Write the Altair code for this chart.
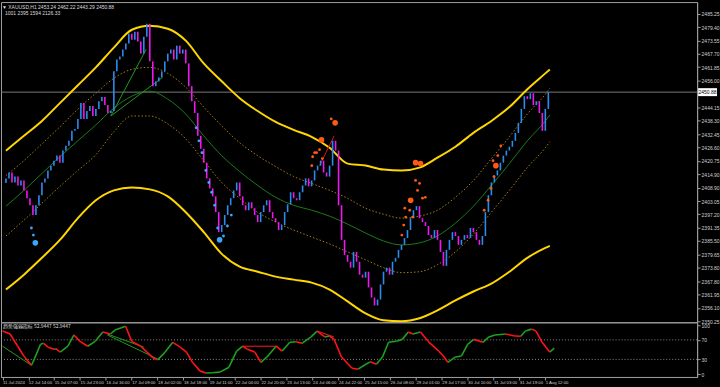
import altair as alt
import pandas as pd

# ---------------- data ----------------
symbol_line = "▼ XAUUSD,H1  2453.24 2462.22 2443.29 2450.88"
info_line = "1001 2395 1594 2126.33"
indicator_label = "趋势强弱指标 52.9447 52.9447"
last_price = 2450.88
last_label = "2450.88"
first_open = 2411.0

# H1 candles sampled every 2 hours (close prices)
closes = [
    2413.0, 2415.6, 2411.2, 2413.8, 2409.9, 2412.1, 2407.7, 2404.3, 2401.2, 2396.9,
    2401.2, 2405.6, 2411.2, 2413.0, 2416.5, 2418.6, 2420.8, 2423.0, 2419.9, 2425.2,
    2427.3, 2429.5, 2433.9, 2434.7, 2439.1, 2446.1, 2439.1, 2442.6, 2444.8, 2440.4,
    2443.5, 2446.9, 2448.7, 2445.2, 2441.7, 2442.6, 2460.0, 2465.2, 2466.5, 2469.6,
    2472.2, 2476.5, 2473.9, 2477.4, 2473.1, 2467.8, 2475.2, 2480.9, 2464.4, 2453.5,
    2455.6, 2457.4, 2460.0, 2464.4, 2467.8, 2469.6, 2465.2, 2471.3, 2467.8, 2469.6,
    2463.5, 2453.5, 2446.9, 2441.7, 2431.7, 2426.0, 2419.9, 2413.0, 2408.6, 2405.1,
    2398.2, 2389.4, 2392.5, 2396.9, 2401.2, 2404.3, 2407.7, 2411.2, 2405.1, 2401.2,
    2399.0, 2402.5, 2399.9, 2396.9, 2393.8, 2398.2, 2401.2, 2403.4, 2398.2, 2395.5,
    2393.8, 2390.3, 2392.5, 2398.2, 2401.6, 2406.9, 2404.3, 2403.4, 2406.9, 2409.9,
    2413.0, 2409.5, 2412.1, 2416.5, 2418.6, 2420.8, 2415.6, 2413.8, 2418.6, 2429.5,
    2425.2, 2401.2, 2386.0, 2379.4, 2376.4, 2373.8, 2380.7, 2376.4, 2370.7, 2369.4,
    2372.0, 2365.1, 2360.7, 2357.2, 2359.8, 2366.4, 2372.0, 2373.8, 2370.7, 2376.4,
    2378.1, 2381.6, 2383.8, 2386.8, 2390.3, 2395.5, 2399.0, 2400.8, 2395.5, 2393.8,
    2392.1, 2388.1, 2386.8, 2390.3, 2386.0, 2380.7, 2374.6, 2381.6, 2386.0, 2389.4,
    2387.7, 2383.8, 2386.0, 2388.1, 2386.8, 2391.2, 2389.4, 2386.0, 2383.8, 2387.7,
    2398.2, 2405.6, 2411.2, 2414.3, 2416.5, 2419.9, 2423.0, 2425.2, 2426.9, 2429.5,
    2433.0, 2437.4, 2443.5, 2449.1, 2447.8, 2450.4, 2445.2, 2446.9, 2441.7, 2433.9,
    2443.5, 2450.88,
]

price_ticks = [2485.25, 2479.40, 2473.55, 2467.70, 2461.85, 2456.00, 2444.15, 2438.30,
               2432.45, 2426.60, 2420.75, 2414.90, 2408.90, 2403.05, 2397.20, 2391.35,
               2385.50, 2379.65, 2373.80, 2367.80, 2361.95, 2356.10, 2350.25]

time_tick_hours = [1, 18, 35, 52, 69, 86, 103, 120, 137, 154, 171, 188, 205, 222,
                   239, 256, 273, 290, 307, 324, 341, 358]
time_tick_labels = ["11 Jul 2024", "12 Jul 14:00", "15 Jul 07:00", "15 Jul 23:00",
                    "16 Jul 16:00", "17 Jul 09:00", "18 Jul 02:00", "18 Jul 18:00",
                    "19 Jul 11:00", "22 Jul 04:00", "22 Jul 20:00", "23 Jul 13:00",
                    "24 Jul 06:00", "24 Jul 22:00", "25 Jul 15:00", "26 Jul 08:00",
                    "29 Jul 01:00", "29 Jul 17:00", "30 Jul 10:00", "31 Jul 03:00",
                    "31 Jul 19:00", "1 Aug 12:00"]

band_hours = [0, 12, 24, 36, 48, 60, 72, 84, 96, 108, 120, 132, 144, 156, 168, 180,
              192, 204, 216, 228, 240, 252, 264, 276, 288, 300, 312, 324, 336, 348,
              360, 363]
upper_yellow = [2425.16, 2431.69, 2438.22, 2446.06, 2453.90, 2461.74, 2470.45, 2478.29,
                2480.03, 2478.72, 2473.50, 2463.48, 2455.64, 2448.24, 2442.58, 2437.79,
                2434.30, 2431.25, 2426.46, 2419.49, 2418.62, 2416.88, 2416.45, 2417.75,
                2422.11, 2426.90, 2433.00, 2438.22, 2444.32, 2452.16, 2459.12, 2460.87]
upper_dotted = [2414.27, 2420.80, 2428.20, 2435.61, 2443.45, 2450.41, 2456.95, 2460.87,
                2461.74, 2459.12, 2453.03, 2444.32, 2436.04, 2428.64, 2422.98, 2418.19,
                2413.84, 2410.79, 2407.74, 2404.25, 2399.90, 2397.28, 2395.54, 2396.41,
                2399.03, 2404.69, 2412.09, 2421.67, 2431.25, 2441.27, 2449.98, 2452.59]
center_green = [2400.77, 2407.74, 2415.14, 2422.54, 2429.51, 2436.48, 2443.88, 2449.11,
                2451.29, 2447.80, 2441.27, 2431.69, 2422.98, 2416.01, 2409.91, 2404.69,
                2401.20, 2399.03, 2396.41, 2392.93, 2389.01, 2385.52, 2383.78, 2384.65,
                2387.70, 2393.36, 2400.77, 2409.91, 2419.49, 2429.51, 2438.22, 2440.83]
lower_dotted = [2387.70, 2394.67, 2402.07, 2409.48, 2416.45, 2423.41, 2433.43, 2440.40,
                2440.40, 2436.91, 2430.38, 2420.80, 2411.22, 2404.25, 2398.15, 2393.80,
                2390.31, 2387.27, 2384.22, 2380.73, 2377.25, 2373.77, 2371.59, 2372.02,
                2375.07, 2380.73, 2388.57, 2398.15, 2407.74, 2417.75, 2426.46, 2429.07]
lower_yellow = [2364.19, 2370.72, 2378.12, 2385.96, 2395.54, 2403.38, 2407.74, 2409.04,
                2408.17, 2405.12, 2398.15, 2389.44, 2379.86, 2374.20, 2372.02, 2369.85,
                2368.54, 2367.23, 2364.19, 2358.96, 2353.73, 2350.69, 2350.25, 2351.56,
                2355.04, 2359.39, 2363.32, 2366.80, 2372.02, 2378.12, 2382.48, 2383.35]

blue_hours = [17, 18.3, 19.6, 126.9, 128.8, 130.8, 133.4, 135.4, 137.3, 139.3, 141.3,
              142.6, 145.2, 147.8, 150.4]
blue_prices = [2391.2, 2388.1, 2384.7, 2435.2, 2429.5, 2424.3, 2416.5, 2411.2, 2406.9,
               2401.2, 2391.2, 2386.0, 2387.7, 2392.1, 2396.9]
blue_big = [0, 0, 1, 0, 0, 0, 0, 0, 0, 0, 0, 1, 0, 0, 0]

orange_hours = [217.1, 219.7, 210.6, 209.3, 206.0, 207.3, 204.7, 204.1, 211.2, 273.4,
                276.7, 273.4, 276.0, 274.7, 270.1, 279.9, 278.0, 266.2, 269.5, 266.8,
                271.4, 265.5, 264.2, 319.2, 321.8, 323.7, 325.7, 327.0, 328.3, 330.3,
                325.1]
orange_prices = [2439.1, 2437.4, 2429.9, 2425.6, 2424.3, 2424.3, 2422.5, 2418.6, 2421.7,
                 2419.9, 2419.5, 2412.1, 2410.8, 2407.7, 2403.4, 2404.7, 2404.3, 2399.9,
                 2399.0, 2396.0, 2396.0, 2392.5, 2388.1, 2399.0, 2403.4, 2408.6, 2413.8,
                 2418.6, 2423.0, 2427.3, 2420.8]
orange_big = [0, 1, 1, 0, 0, 0, 0, 0, 0, 1, 1, 0, 0, 0, 1, 0, 0, 0, 0, 0, 0, 0, 0,
              0, 0, 0, 0, 1, 0, 0, 0]

green_tl = {"x": [70, 70], "y": [2440.4, 2440.4], "x2": [93.5, 104.6], "y2": [2469.6, 2457.4]}
red_tl = {"x": [209.3], "y": [2418.6], "x2": [219.1], "y2": [2431.7]}

ind_hours = [1, 6, 11, 15, 20, 22, 26, 28, 31, 35, 36, 39, 44, 48, 52, 57, 62, 67, 72, 75,
             82, 86, 92, 96, 100, 103, 108, 113, 118, 122, 126, 131, 135, 139, 144, 150,
             155, 159, 162, 167, 171, 175, 181, 185, 190, 194, 198, 204, 208, 213, 216,
             219, 224, 231, 235, 240, 243, 247, 251, 255, 260, 264, 268, 271, 276, 281,
             288, 291, 294, 299, 303, 307, 311, 317, 321, 325, 332, 338, 342, 345, 349,
             352, 356, 361, 364]
ind_values = [88, 82, 57, 37, 18, 31, 61, 63, 55, 51, 52, 45, 57, 80, 67, 57, 67, 86, 82, 90,
              98, 67, 57, 45, 33, 29, 45, 65, 55, 45, 24, 6, 2, 2.5, 4, 14,
              47, 57, 51, 45, 24, 35, 57, 47, 65, 66, 63, 76, 88, 76, 78,
              72, 35, 12, 10, 20, 25, 20, 35, 65, 67, 71, 86, 82, 86, 67,
              47, 37, 24, 35, 37, 61, 71, 65, 76, 80, 82, 78, 77.5, 88, 92,
              88, 65, 45, 53]
ind_levels = [30, 70]
ind_ticks = [0, 30, 70, 100]
ind_green_tl = {"x": [1, 70, 70], "v": [57, 82, 80], "x2": [20, 94, 103], "v2": [18, 55, 31]}
ind_red_tl = {"x": [159, 208], "v": [57, 88], "x2": [182, 219], "v2": [57, 76]}

# ---------------- styling ----------------
W = 700
MAIN_H = 322
IND_H = 55
FONT = "Liberation Sans"
LBL = "#d0d0d0"
AX = "#9a9a9a"

xs = alt.Scale(domain=[0, 458], nice=False, zero=False)
ys = alt.Scale(domain=[2349.8, 2490.44], nice=False, zero=False)
iys = alt.Scale(domain=[-6, 106], nice=False, zero=False)

yaxis = alt.Axis(orient="right", values=price_ticks, labelExpr="format(datum.value, '.2f')",
                 title=None, tickSize=3, labelFontSize=5, labelColor=LBL, tickColor=AX,
                 domainColor=AX, grid=False, labelPadding=1, labelFont=FONT,
                 labelOverlap=False)
iyaxis = alt.Axis(orient="right", values=ind_ticks, title=None, tickSize=3, labelFontSize=5,
                  labelColor=LBL, tickColor=AX, domainColor=AX, grid=False, labelPadding=1,
                  labelFont=FONT, labelOverlap=False)
label_array = "[" + ",".join("'%s'" % s for s in time_tick_labels) + "]"
hour_array = "[" + ",".join(str(h) for h in time_tick_hours) + "]"
xaxis = alt.Axis(values=time_tick_hours, labelExpr=label_array + "[indexof(" + hour_array + ", datum.value)]",
                 title=None, tickSize=3, labelFontSize=4.3, labelAlign="left", labelColor=LBL,
                 tickColor=AX, domainColor=AX, grid=False, labelPadding=1, labelFont=FONT,
                 labelOverlap=False, labelFlush=False, labelBound=False)


def X(field):
    return alt.X(field, type="quantitative", scale=xs, axis=None)


def Y(field):
    return alt.Y(field, type="quantitative", scale=ys, axis=yaxis)


# ---------------- main panel ----------------
cdf = pd.DataFrame({"hour": [2 * k for k in range(len(closes))], "close": closes})
cdf["open"] = [first_open] + closes[:-1]
bull = cdf[cdf["close"] >= cdf["open"]]
bear = cdf[cdf["close"] < cdf["open"]]

cur = pd.DataFrame({"price": [last_price], "label": [last_label]})

layers = []
layers.append(alt.Chart(cur).mark_rule(color="#7a7a7a", strokeWidth=1).encode(y=Y("price")))


def band(values, color, width, dash=None):
    df = pd.DataFrame({"hour": band_hours, "price": values})
    kw = dict(color=color, strokeWidth=width, interpolate="monotone")
    if dash is not None:
        kw["strokeDash"] = dash
    return alt.Chart(df).mark_line(**kw).encode(x=X("hour"), y=Y("price"))


layers.append(band(upper_dotted, "#a77d12", 1, [1.5, 2]))
layers.append(band(lower_dotted, "#a77d12", 1, [1.5, 2]))
layers.append(band(center_green, "#1d7a1d", 1))
layers.append(band(upper_yellow, "#ffd700", 2))
layers.append(band(lower_yellow, "#ffd700", 2))

tl_g = pd.DataFrame(green_tl)
tl_r = pd.DataFrame(red_tl)
layers.append(alt.Chart(tl_g).mark_rule(color="#1f9a1f", strokeWidth=1).encode(
    x=X("x"), x2="x2:Q", y=Y("y"), y2="y2:Q"))
layers.append(alt.Chart(tl_r).mark_rule(color="#e01010", strokeWidth=1).encode(
    x=X("x"), x2="x2:Q", y=Y("y"), y2="y2:Q"))

layers.append(alt.Chart(bull).mark_bar(size=1.6, color="#2b8cf0").encode(
    x=X("hour"), y=Y("open"), y2="close:Q"))
layers.append(alt.Chart(bear).mark_bar(size=1.6, color="#f018f0").encode(
    x=X("hour"), y=Y("open"), y2="close:Q"))

size_scale = alt.Scale(domain=[0, 1], range=[8, 32])
bdf = pd.DataFrame({"hour": blue_hours, "price": blue_prices, "big": blue_big})
odf = pd.DataFrame({"hour": orange_hours, "price": orange_prices, "big": orange_big})
layers.append(alt.Chart(bdf).mark_circle(color="#38a8ff", opacity=1).encode(
    x=X("hour"), y=Y("price"), size=alt.Size("big:Q", scale=size_scale, legend=None)))
layers.append(alt.Chart(odf).mark_circle(color="#ff5a14", opacity=1).encode(
    x=X("hour"), y=Y("price"), size=alt.Size("big:Q", scale=size_scale, legend=None)))

layers.append(alt.Chart(cur).mark_rect(color="white", yOffset=-4, y2Offset=4).encode(
    x=alt.value(701), x2=alt.value(720), y=Y("price"), y2="price:Q"))
layers.append(alt.Chart(cur).mark_text(color="black", fontSize=5, font=FONT, align="center",
                                       baseline="middle").encode(
    x=alt.value(710.5), y=Y("price"), text="label:N"))

tdf = pd.DataFrame({"t": [symbol_line, info_line], "row": [0, 1]})
layers.append(alt.Chart(tdf.iloc[[0]]).mark_text(color="#dcdcdc", fontSize=5, font=FONT,
                                                 align="left", baseline="top").encode(
    x=alt.value(1), y=alt.value(3), text="t:N"))
layers.append(alt.Chart(tdf.iloc[[1]]).mark_text(color="#dcdcdc", fontSize=5, font=FONT,
                                                 align="left", baseline="top").encode(
    x=alt.value(4), y=alt.value(9), text="t:N"))

main = alt.layer(*layers).properties(width=W, height=MAIN_H)

# ---------------- indicator panel ----------------
seg = pd.DataFrame({"x": ind_hours[:-1], "x2": ind_hours[1:],
                    "v": ind_values[:-1], "v2": ind_values[1:]})
rise = seg[seg["v2"] >= seg["v"]]
fall = seg[seg["v2"] < seg["v"]]


def IX(field):
    return alt.X(field, type="quantitative", scale=xs, axis=xaxis)


def IY(field):
    return alt.Y(field, type="quantitative", scale=iys, axis=iyaxis)


ilayers = []
ilayers.append(alt.Chart(pd.DataFrame({"lvl": ind_levels})).mark_rule(
    color="#8a8a8a", strokeDash=[1, 2], strokeWidth=1).encode(y=IY("lvl")))
ilayers.append(alt.Chart(pd.DataFrame(ind_green_tl)).mark_rule(color="#1f9a1f", strokeWidth=1).encode(
    x=IX("x"), x2="x2:Q", y=IY("v"), y2="v2:Q"))
ilayers.append(alt.Chart(pd.DataFrame(ind_red_tl)).mark_rule(color="#ff1a1a", strokeWidth=1).encode(
    x=IX("x"), x2="x2:Q", y=IY("v"), y2="v2:Q"))
ilayers.append(alt.Chart(rise).mark_rule(color="#1fa01f", strokeWidth=1.6).encode(
    x=IX("x"), x2="x2:Q", y=IY("v"), y2="v2:Q"))
ilayers.append(alt.Chart(fall).mark_rule(color="#ff1414", strokeWidth=1.6).encode(
    x=IX("x"), x2="x2:Q", y=IY("v"), y2="v2:Q"))
ilayers.append(alt.Chart(pd.DataFrame({"t": [indicator_label]})).mark_text(
    color="#dcdcdc", fontSize=5, font="Noto Sans CJK SC", align="left", baseline="top").encode(
    x=alt.value(2), y=alt.value(2), text="t:N"))

ind = alt.layer(*ilayers).properties(width=W, height=IND_H)

chart = alt.vconcat(main, ind, spacing=0, bounds="flush").configure(
    background="black",
    padding={"left": 0, "top": 0, "right": 0, "bottom": 0},
).configure_view(stroke="#a0a0a0", strokeWidth=1)

chart.save("out.html", embed_options={"renderer": "svg", "actions": False})
